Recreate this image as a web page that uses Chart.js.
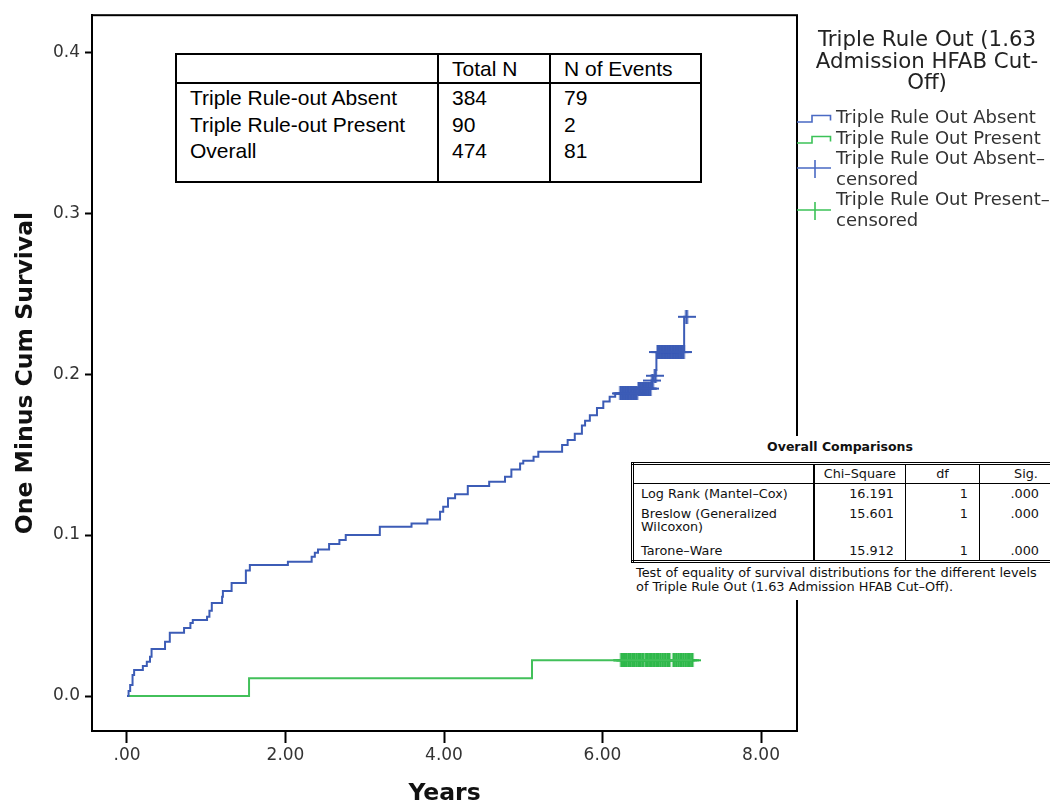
<!DOCTYPE html>
<html>
<head>
<meta charset="utf-8">
<script src="https://cdn.jsdelivr.net/npm/chart.js@4.4.1/dist/chart.umd.min.js"></script>
<style>
  body { margin: 0; background: #fff; }
  #wrap { position: relative; width: 1050px; height: 805px; overflow: hidden; }
  #chart { position: absolute; left: 0; top: 0; }

  /* case summary table */
  #counts { position: absolute; left: 175px; top: 53px; border-collapse: collapse; table-layout: fixed;
            font: 21px "Liberation Sans", Arial, sans-serif; color: #000; background: #fff; }
  #counts td { border-left: 2px solid #000; border-right: 2px solid #000; padding: 0 0 0 13px; vertical-align: top; white-space: nowrap; }
  #counts tr.hd td { height: 27px; border-top: 2px solid #000; border-bottom: 2px solid #000; line-height: 27px; }
  #counts tr.bd td { height: 96px; line-height: 26.5px; padding-top: 1px; border-bottom: 2px solid #000; }

  /* legend */
  #legend { position: absolute; left: 800px; top: 0; width: 250px; color: #333; font-family: "DejaVu Sans", sans-serif; }
  #legend .ttl { position: absolute; left: 2px; top: 28px; width: 250px; text-align: center; font-size: 21.3px; line-height: 21.5px; color: #222; }
  #legend .items { position: absolute; left: 36px; top: 107px; font-size: 18px; line-height: 20.6px; white-space: nowrap; }
  #legend svg { position: absolute; left: -10px; top: 100px; }

  /* test table */
  #cmp { position: absolute; left: 620px; top: 436px; width: 430px; height: 164px; background: #fff; font-family: "DejaVu Sans", sans-serif; color: #111; }
  #cmp .ttl { position: absolute; left: 0; top: 3px; width: 440px; text-align: center; font-weight: bold; font-size: 12.5px; }
  #cmp table { position: absolute; left: 11px; top: 26px; width: 447px; border-collapse: collapse; table-layout: fixed; font-size: 12.8px; border: 3px double #000; }
  #cmp td { padding: 0; line-height: 12.5px; vertical-align: top; white-space: nowrap; }
  #cmp tr.hd td { height: 18px; vertical-align: middle; text-align: center; border-bottom: 1px solid #000; }
  #cmp td.lab { padding-left: 7px; border-right: 2px solid #000; }
  #cmp td.num { text-align: right; padding-right: 11px; border-right: 1px solid #000; }
  #cmp td.df { padding-right: 11px; }
  #cmp td.sig { text-align: right; padding-right: 39px; }
  #cmp tr.r1 td { height: 20px; vertical-align: middle; }
  #cmp tr.r2 td { height: 29px; padding-top: 4px; }
  #cmp tr.r3 td { height: 15px; padding-top: 8px; }
  #cmp .note { position: absolute; left: 16px; top: 130px; font-size: 12.9px; line-height: 14px; white-space: nowrap; }
</style>
</head>
<body>
<div id="wrap">
  <canvas id="chart" width="1050" height="805"></canvas>

  <table id="counts">
    <colgroup><col style="width:262px"><col style="width:112px"><col style="width:151px"></colgroup>
    <tr class="hd"><td></td><td>Total N</td><td>N of Events</td></tr>
    <tr class="bd">
      <td>Triple Rule-out Absent<br>Triple Rule-out Present<br>Overall</td>
      <td>384<br>90<br>474</td>
      <td>79<br>2<br>81</td>
    </tr>
  </table>

  <div id="legend">
    <div class="ttl">Triple Rule Out (1.63<br>Admission HFAB Cut-<br>Off)</div>
    <svg width="50" height="130" viewBox="790 100 50 130">
      <path d="M797 122 H812 V115.5 H830.5 V120.5" fill="none" stroke="#4a6ac4" stroke-width="1.6"/>
      <path d="M797 143 H812 V136.5 H830.5 V141.5" fill="none" stroke="#3cc258" stroke-width="1.6"/>
      <path d="M797 168 H831 M815 160 V178" fill="none" stroke="#4a6ac4" stroke-width="1.6"/>
      <path d="M797 210 H831 M815 202 V220" fill="none" stroke="#3cc258" stroke-width="1.6"/>
    </svg>
    <div class="items">Triple Rule Out Absent<br>Triple Rule Out Present<br>Triple Rule Out Absent&#8211;<br>censored<br>Triple Rule Out Present&#8211;<br>censored</div>
  </div>

  <div id="cmp">
    <div class="ttl">Overall Comparisons</div>
    <table>
      <colgroup><col style="width:181px"><col style="width:92px"><col style="width:74px"><col style="width:100px"></colgroup>
      <tr class="hd"><td class="lab"></td><td class="num" style="text-align:center;padding:0">Chi&#8211;Square</td><td class="num" style="text-align:center;padding:0">df</td><td style="text-align:center;padding-right:6px">Sig.</td></tr>
      <tr class="r1"><td class="lab">Log Rank (Mantel&#8211;Cox)</td><td class="num">16.191</td><td class="num df">1</td><td class="sig">.000</td></tr>
      <tr class="r2"><td class="lab">Breslow (Generalized<br>Wilcoxon)</td><td class="num">15.601</td><td class="num df">1</td><td class="sig">.000</td></tr>
      <tr class="r3"><td class="lab">Tarone&#8211;Ware</td><td class="num">15.912</td><td class="num df">1</td><td class="sig">.000</td></tr>
    </table>
    <div class="note">Test of equality of survival distributions for the different levels<br>of Triple Rule Out (1.63 Admission HFAB Cut&#8211;Off).</div>
  </div>
</div>

<script>
// Kaplan-Meier "one minus cum survival" by triple rule-out group.

const X_TICKS = [0, 2, 4, 6, 8];
const Y_TICKS = [0, 0.1, 0.2, 0.3, 0.4];

// event times (years) and cumulative incidence after each event
const ABSENT_T = [0, 0.02, 0.04, 0.07, 0.09, 0.20, 0.25, 0.29, 0.31, 0.48, 0.54, 0.72, 0.80, 0.83,
  1.01, 1.04, 1.07, 1.20, 1.21, 1.32, 1.50, 1.55, 2.03, 2.33, 2.37, 2.41, 2.55, 2.68, 2.76,
  3.19, 3.59, 3.79, 3.95, 3.99, 4.05, 4.14, 4.30, 4.57, 4.77, 4.85, 4.96, 5.00, 5.13, 5.19,
  5.49, 5.56, 5.65, 5.74, 5.78, 5.84, 5.93, 6.01, 6.09, 6.16, 6.45, 6.62, 6.64, 6.67, 6.68, 7.03];
const ABSENT_V = [0, 0.0031, 0.0068, 0.0130, 0.0161, 0.0186, 0.0213, 0.0244, 0.0292, 0.0337, 0.0393, 0.0422, 0.0453, 0.0472,
  0.0493, 0.0530, 0.0578, 0.0617, 0.0652, 0.0702, 0.0780, 0.0814, 0.0834, 0.0865, 0.0890, 0.0911, 0.0944, 0.0969, 0.1000,
  0.1052, 0.1072, 0.1097, 0.1145, 0.1176, 0.1228, 0.1253, 0.1304, 0.1331, 0.1362, 0.1408, 0.1445, 0.1461, 0.1486, 0.1517,
  0.1560, 0.1590, 0.1630, 0.1680, 0.1710, 0.1745, 0.1790, 0.1830, 0.1860, 0.1880, 0.1910, 0.1960, 0.1990, 0.2025, 0.2137, 0.2356];
const ABSENT_CENSORED = [6.23, 6.25, 6.27, 6.29, 6.31, 6.33, 6.35, 6.37, 6.39, 6.41, 6.43, 6.46, 6.48, 6.50,
  6.52, 6.54, 6.56, 6.58, 6.60, 6.63, 6.665, 6.70, 6.72, 6.74, 6.76, 6.78, 6.80, 6.82, 6.84, 6.86,
  6.88, 6.90, 6.92, 6.94, 6.96, 6.98, 7.00, 7.02, 7.06];

const PRESENT_T = [0, 1.54, 5.11];
const PRESENT_V = [0, 0.0111, 0.0222];
const PRESENT_CENSORED = [6.24, 6.26, 6.28, 6.30, 6.33, 6.35, 6.38, 6.40, 6.43, 6.46, 6.48, 6.51,
  6.55, 6.57, 6.60, 6.62, 6.65, 6.68, 6.70, 6.73, 6.76, 6.79, 6.82, 6.84,
  6.90, 6.93, 6.96, 6.99, 7.02, 7.05, 7.08, 7.10, 7.13];

const BLUE = "#3c5cb6";
const GREEN = "#42c05a";
const GREEN_MARK = "#2fb84b";

function stepAt(T, V, t) {
  let v = V[0];
  for (let i = 0; i < T.length; i++) if (T[i] <= t) v = V[i];
  return v;
}

function curve(T, V, censored) {
  const pts = T.map((t, i) => ({ x: t, y: V[i] }));
  const end = censored[censored.length - 1];
  pts.push({ x: end, y: stepAt(T, V, end) });
  return pts;
}

function marks(T, V, censored) {
  return censored.map((t) => ({ x: t, y: stepAt(T, V, t) }));
}

// SPSS style censor tick: wide horizontal arm, tall vertical bar
function censorMark(color) {
  const c = document.createElement("canvas");
  c.width = 18; c.height = 14;
  const g = c.getContext("2d");
  g.fillStyle = color;
  g.fillRect(0, 6, 18, 2);
  g.fillRect(7.5, 0, 3, 14);
  return c;
}

const framePlugin = {
  id: "frame",
  afterDraw(chart) {
    const { ctx, chartArea: a } = chart;
    ctx.save();
    ctx.strokeStyle = "#000";
    ctx.lineWidth = 2;
    ctx.strokeRect(a.left, a.top, a.right - a.left, a.bottom - a.top);
    ctx.restore();
  },
};

const tickFont = { family: "'DejaVu Sans', sans-serif", size: 17 };
const titleFont = { family: "'DejaVu Sans', sans-serif", size: 23.5, weight: "bold", lineHeight: 1 };

new Chart(document.getElementById("chart"), {
  type: "line",
  data: {
    datasets: [
      { data: curve(ABSENT_T, ABSENT_V, ABSENT_CENSORED), borderColor: BLUE, borderWidth: 2, stepped: "before", pointRadius: 0, fill: false },
      { data: curve(PRESENT_T, PRESENT_V, PRESENT_CENSORED), borderColor: GREEN, borderWidth: 2, stepped: "before", pointRadius: 0, fill: false },
      { data: marks(ABSENT_T, ABSENT_V, ABSENT_CENSORED), showLine: false, pointStyle: censorMark(BLUE), pointRadius: 5 },
      { data: marks(PRESENT_T, PRESENT_V, PRESENT_CENSORED), showLine: false, pointStyle: censorMark(GREEN_MARK), pointRadius: 5 },
    ],
  },
  options: {
    responsive: false,
    animation: false,
    layout: { padding: { top: 15, right: 253, left: 0, bottom: 0 } },
    plugins: { legend: { display: false }, tooltip: { enabled: false } },
    scales: {
      x: {
        type: "linear", min: -0.4416, max: 8.454,
        afterBuildTicks: (s) => { s.ticks = X_TICKS.map((v) => ({ value: v })); },
        afterFit: (s) => { s.height = 74; },
        ticks: { color: "#333", font: tickFont, padding: 2, autoSkip: false, maxRotation: 0,
                 callback: (v) => (v === 0 ? ".00" : v.toFixed(2)) },
        grid: { drawOnChartArea: false, tickLength: 12, tickColor: "#000", tickWidth: 2 },
        border: { color: "#000", width: 2 },
        title: { display: true, text: "Years", color: "#111", font: titleFont, padding: { top: 0, bottom: -1 } },
      },
      y: {
        type: "linear", min: -0.02174, max: 0.42298,
        afterBuildTicks: (s) => { s.ticks = Y_TICKS.map((v) => ({ value: v })); },
        afterFit: (s) => { s.width = 92; },
        ticks: { color: "#333", font: tickFont, padding: 5, autoSkip: false, callback: (v) => v.toFixed(1) },
        grid: { drawOnChartArea: false, tickLength: 7, tickColor: "#000", tickWidth: 2 },
        border: { color: "#000", width: 2 },
        title: { display: true, text: "One Minus Cum Survival", color: "#111", font: titleFont, padding: { top: 14, bottom: 0 } },
      },
    },
  },
  plugins: [framePlugin],
});
</script>
</body>
</html>
